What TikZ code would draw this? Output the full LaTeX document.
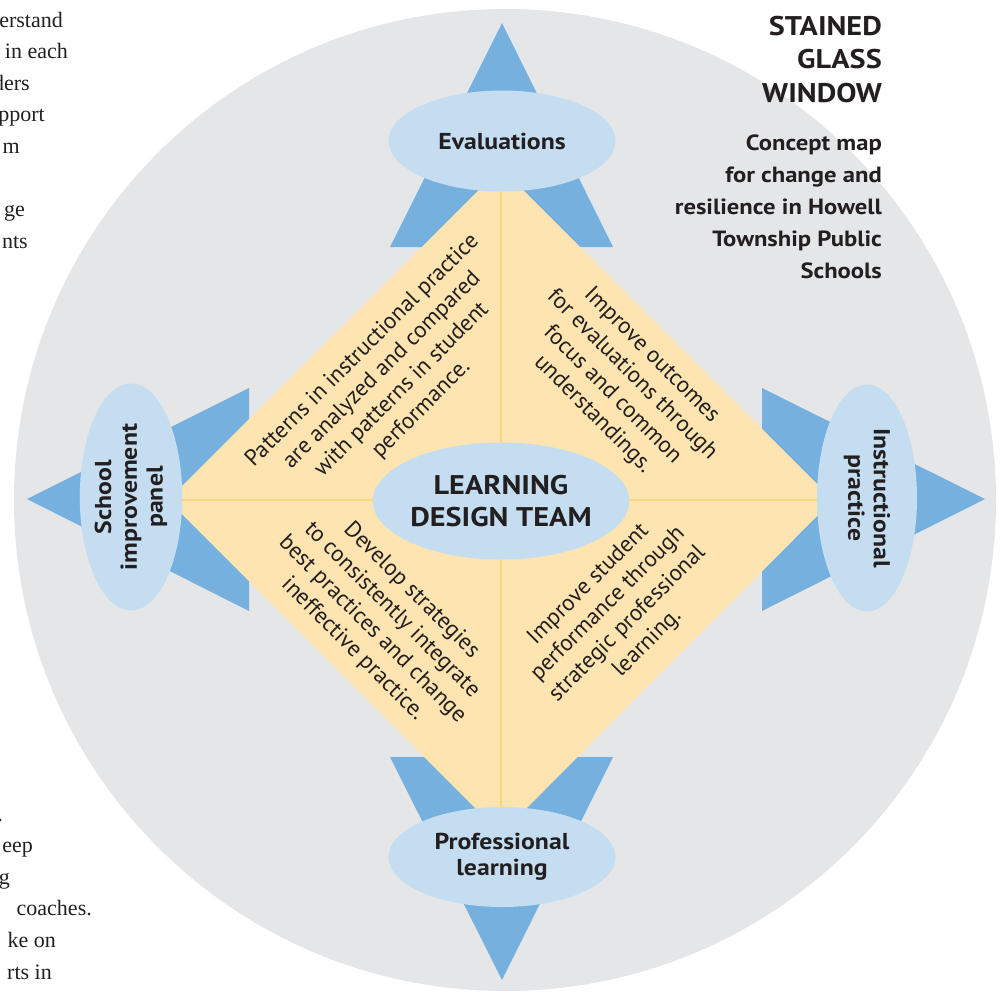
\documentclass[tikz,border=0pt]{standalone}
\usepackage{fontspec}
\setmainfont{PT Sans}[BoldFeatures={FakeStretch=1.12}]
\newfontfamily\pageserif{Liberation Serif}
\usepackage{xcolor}
\usetikzlibrary{shapes.geometric}
\definecolor{discgray}{HTML}{E5E6E8}
\definecolor{spikeblue}{HTML}{76B0DE}
\definecolor{ovalblue}{HTML}{C5DDF1}
\definecolor{paneyellow}{HTML}{FDE4B0}
\definecolor{leadyellow}{HTML}{FDD57C}
\definecolor{inkblack}{HTML}{231F20}
\newcommand{\spike}[3]{\fill [spikeblue] (#1) -- (#2) -- (#3) -- cycle}
\newcommand{\fsz}[2]{\fontsize{#1}{#2}\selectfont}

\begin{document}
\begin{tikzpicture}[x=1pt,y=-1pt,
    oval/.style={ellipse,fill=ovalblue,inner sep=0pt,text=inkblack,font=\bfseries\fsz{23}{25.7},align=center},
    pane/.style={text=inkblack,font=\fsz{23}{27.7},align=center,inner sep=0pt},
    margin/.style={text=inkblack,font=\pageserif\fsz{22}{31.6},anchor=base east,inner sep=0pt}]
    \useasboundingbox (0,0) rectangle (1002,996);
    \fill [discgray] (505,500) circle (491);

    % spikes behind the ovals
    \spike{502,23}{390,247}{613,247};
    \spike{502,980}{390,757}{613,757};
    \spike{27,499}{249,388}{249,611};
    \spike{985,499}{762,388}{762,611};

    % the window
    \coordinate (top) at (501,168);
    \coordinate (right) at (833,500);
    \coordinate (bottom) at (501,834);
    \coordinate (left) at (168,500);
    \fill [paneyellow] (top) -- (right) -- (bottom) -- (left) -- cycle;
    \draw [leadyellow, line width=2.5] (top) -- (bottom);
    \draw [leadyellow, line width=2.5] (left) -- (right);

    \node [pane, rotate=45] (patterns) at (392,380) {Patterns in instructional practice\\are analyzed and compared\\with patterns in student\\performance.};
    \node [pane, rotate=-45] (outcomes) at (622,385) {Improve outcomes\\for evaluations through\\focus and common\\understandings.};
    \node [pane, rotate=-45] (strategies) at (382,620) {Develop strategies\\to consistently integrate\\best practices and change\\ineffective practice.};
    \node [pane, rotate=45] (studentperf) at (618,614) {Improve student\\performance through\\strategic professional\\learning.};

    \node [oval, minimum width=227, minimum height=101] (evals) at (502,141) {Evaluations};
    \node [oval, minimum width=227, minimum height=100] (proflearn) at (502,857) {Professional\\learning};
    \node [oval, minimum width=227, minimum height=100, rotate=90] (schoolpanel) at (131,497) {School\\improvement\\panel};
    \node [oval, minimum width=227, minimum height=100, rotate=-90] (instrpractice) at (867,498) {Instructional\\practice};
    \node [oval, minimum width=253, minimum height=117, font=\bfseries\fsz{27}{32}] (ldt) at (501,501) {LEARNING\\DESIGN TEAM};

    \node [anchor=north east, align=right, inner sep=0pt, text=inkblack, font=\bfseries\fsz{27}{33.5}] (title) at (882,16) {STAINED\\GLASS\\WINDOW};
    \node [anchor=north east, align=right, inner sep=0pt, text=inkblack, font=\bfseries\fsz{22}{31.8}] (subtitle) at (882,135) {Concept map\\for change and\\resilience in Howell\\Township Public\\Schools};

    % text of the page running past the left edge
    \node [margin] (frag1) at (63,27) {erstand};
    \node [margin] (frag2) at (68,58.6) {in each};
    \node [margin] (frag3) at (30,90.2) {ders};
    \node [margin] (frag4) at (45,121.8) {pport};
    \node [margin] (frag5) at (20,153.4) {m};
    \node [margin] (frag6) at (25,216.6) {ge};
    \node [margin] (frag7) at (28,248.2) {nts};
    \node [margin] (frag8) at (3,821) {.};
    \node [margin] (frag9) at (33,852.6) {eep};
    \node [margin] (frag10) at (10,884.2) {g};
    \node [margin] (frag11) at (92,915.8) {coaches.};
    \node [margin] (frag12) at (56,947.4) {ke on};
    \node [margin] (frag13) at (52,979) {rts in};
\end{tikzpicture}
\end{document}
